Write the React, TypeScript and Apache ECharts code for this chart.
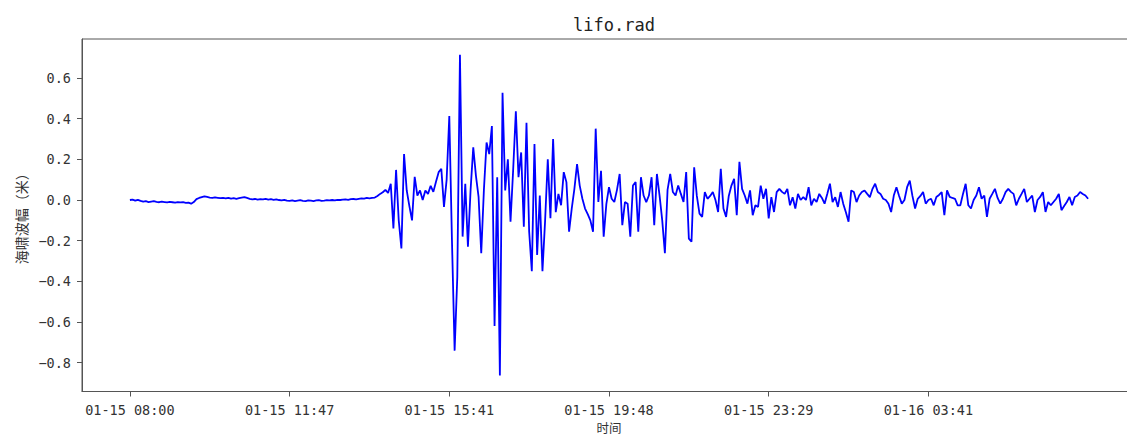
import React, { useEffect, useRef } from 'react';
import * as echarts from 'echarts';

// Tsunami amplitude (m), one value per sample index
const amplitude: number[] = [
  0.0, 0.002, -0.003, 0.001, -0.004, -0.008, -0.006, -0.010, -0.008, -0.006,
  -0.009, -0.011, -0.008, -0.010, -0.012, -0.009, -0.011, -0.013, -0.010, -0.012,
  -0.011, -0.014, -0.013, -0.018, -0.010, 0.004, 0.010, 0.014, 0.018, 0.015,
  0.012, 0.010, 0.013, 0.011, 0.009, 0.010, 0.008, 0.011, 0.007, 0.009,
  0.006, 0.009, 0.012, 0.014, 0.010, 0.006, 0.003, 0.005, 0.002, 0.004,
  0.003, 0.006, 0.002, 0.004, 0.001, 0.003, 0.000, -0.002, 0.001, -0.003,
  -0.004, -0.002, -0.005, -0.003, -0.001, -0.004, -0.006, -0.002, -0.003, -0.005,
  -0.002, -0.001, -0.004, -0.003, -0.001, -0.002, 0.000, -0.002, 0.001, 0.000,
  0.002, 0.003, 0.001, 0.004, 0.005, 0.003, 0.006, 0.008, 0.007, 0.010,
  0.008, 0.010, 0.012, 0.02, 0.03, 0.038, 0.05, 0.035, 0.08, -0.14,
  0.148, -0.10, -0.238, 0.226, 0.047, -0.03, -0.1, 0.114, 0.022, 0.047,
  0.0, 0.047, 0.03, 0.07, 0.04, 0.09, 0.137, 0.153, -0.034, 0.1,
  0.413, -0.2, -0.741, -0.38, 0.714, -0.18, 0.08, -0.23, 0.05, 0.259,
  0.12, 0.015, -0.262, 0.05, 0.283, 0.226, 0.364, -0.62, 0.112, -0.863,
  0.527, 0.047, 0.2, -0.107, 0.15, 0.437, 0.112, 0.234, -0.132, 0.38,
  -0.155, -0.35, 0.275, -0.27, 0.022, -0.35, -0.1, 0.2, -0.09, 0.3,
  -0.06, 0.03, -0.026, 0.137, 0.088, -0.156, -0.042, 0.055, 0.177, 0.071,
  0.006, -0.042, -0.07, -0.1, -0.156, 0.351, -0.01, 0.144, -0.18, -0.02,
  0.063, 0.006, -0.01, 0.05, 0.128, -0.124, -0.01, -0.018, -0.18, 0.071,
  0.088, -0.156, 0.112, 0.022, -0.01, 0.022, 0.112, -0.124, 0.128, 0.022,
  -0.1, -0.262, 0.05, 0.128, 0.039, 0.022, 0.071, 0.03, -0.01, 0.137,
  -0.19, -0.205, 0.161, 0.02, -0.067, -0.083, 0.039, 0.006, 0.02, 0.039,
  0.0, -0.059, 0.153, -0.042, -0.083, 0.02, 0.071, 0.104, -0.075, 0.188,
  0.055, 0.022, -0.018, 0.047, -0.075, -0.026, -0.034, 0.071, 0.006, 0.055,
  -0.091, 0.014, -0.059, 0.039, 0.055, 0.04, 0.03, 0.055, -0.026, 0.014,
  -0.042, 0.03, 0.0, 0.014, 0.0, 0.063, -0.026, 0.006, -0.01, 0.03,
  0.01, -0.018, 0.03, 0.08, -0.01, 0.014, -0.034, 0.039, -0.018, -0.06,
  -0.107, 0.047, 0.039, -0.01, 0.022, 0.039, 0.047, 0.03, 0.014, 0.055,
  0.08, 0.039, 0.03, 0.006, 0.0, -0.018, -0.059, 0.022, 0.063, 0.02,
  -0.018, 0.0, 0.063, 0.095, 0.02, -0.042, 0.006, 0.02, 0.039, -0.018,
  0.0, 0.006, -0.026, 0.015, 0.025, 0.039, -0.075, 0.047, 0.015, 0.01,
  0.006, -0.026, -0.026, 0.03, 0.08, -0.026, -0.042, 0.0, 0.022, 0.063,
  0.006, 0.022, -0.083, 0.006, 0.03, 0.055, 0.01, -0.018, 0.006, 0.039,
  0.055, 0.04, 0.03, -0.026, 0.006, 0.03, 0.055, -0.01, 0.006, 0.022,
  -0.059, 0.0, 0.015, 0.039, -0.059, -0.01, -0.026, -0.01, 0.006, 0.03,
  -0.05, -0.03, -0.01, 0.015, -0.026, 0.015, 0.022, 0.039, 0.03, 0.022,
  0.006,
];

const tickIndices: number[] = [0, 60, 120, 180, 240, 300];
const tickLabels: string[] = [
  '01-15 08:00',
  '01-15 11:47',
  '01-15 15:41',
  '01-15 19:48',
  '01-15 23:29',
  '01-16 03:41',
];
const yTicks: number[] = [-0.8, -0.6, -0.4, -0.2, 0, 0.2, 0.4, 0.6];

const AXIS_COLOR = '#555';
const LABEL_COLOR = '#333';
const MONO = '"DejaVu Sans Mono", monospace';
const CJK = '"Noto Sans CJK SC", sans-serif';

export default function App() {
  const ref = useRef<HTMLDivElement>(null);

  useEffect(() => {
    if (!ref.current) return;
    const chart = echarts.init(ref.current, null, { renderer: 'svg' });
    const n = amplitude.length - 1;
    const seriesData = amplitude.map((v, i) => [i, v]);

    chart.setOption({
      animation: false,
      backgroundColor: '#fff',
      title: {
        text: 'lifo.rad',
        left: 609,
        top: 11,
        textAlign: 'center',
        textStyle: { fontFamily: MONO, fontSize: 17, fontWeight: 'normal', color: '#222' },
      },
      grid: {
        left: 82,
        top: 39,
        width: 1054,
        height: 355,
        show: true,
        borderColor: AXIS_COLOR,
        borderWidth: 1,
        backgroundColor: 'transparent',
        containLabel: false,
      },
      xAxis: {
        type: 'value',
        min: -n * 0.05,
        max: n * 1.05,
        name: '时间',
        nameLocation: 'middle',
        nameGap: 30,
        nameTextStyle: { fontFamily: CJK, fontSize: 12.5, color: LABEL_COLOR },
        axisLine: { show: true, onZero: false, lineStyle: { color: AXIS_COLOR, width: 1 } },
        axisTick: {
          show: true,
          length: 5,
          customValues: tickIndices,
          lineStyle: { color: AXIS_COLOR, width: 1 },
        },
        axisLabel: {
          customValues: tickIndices,
          margin: 11,
          fontFamily: MONO,
          fontSize: 13.5,
          color: LABEL_COLOR,
          formatter: (v: number) => {
            const k = tickIndices.indexOf(Math.round(v));
            return k >= 0 ? tickLabels[k] : '';
          },
        },
        splitLine: { show: false },
      },
      yAxis: {
        type: 'value',
        min: -0.942,
        max: 0.792,
        name: '海啸波幅（米）',
        nameLocation: 'middle',
        nameGap: 50,
        nameRotate: 90,
        nameTextStyle: { fontFamily: CJK, fontSize: 14, color: LABEL_COLOR },
        axisLine: { show: true, onZero: false, lineStyle: { color: AXIS_COLOR, width: 1 } },
        axisTick: {
          show: true,
          length: 5,
          customValues: yTicks,
          lineStyle: { color: AXIS_COLOR, width: 1 },
        },
        axisLabel: {
          customValues: yTicks,
          margin: 11,
          fontFamily: MONO,
          fontSize: 13.5,
          color: LABEL_COLOR,
          formatter: (v: number) => v.toFixed(1).replace('-', '\u2212'),
        },
        splitLine: { show: false },
      },
      series: [
        {
          type: 'line',
          data: seriesData,
          showSymbol: false,
          symbol: 'none',
          lineStyle: { color: '#0000ff', width: 1.8 },
          itemStyle: { color: '#0000ff' },
        },
      ],
    });

    return () => chart.dispose();
  }, []);

  return (
    <div
      style={{
        position: 'absolute',
        left: 0,
        top: 0,
        width: 1127,
        height: 439,
        overflow: 'hidden',
        background: '#fff',
      }}
    >
      <div ref={ref} style={{ width: 1150, height: 439 }} />
    </div>
  );
}
